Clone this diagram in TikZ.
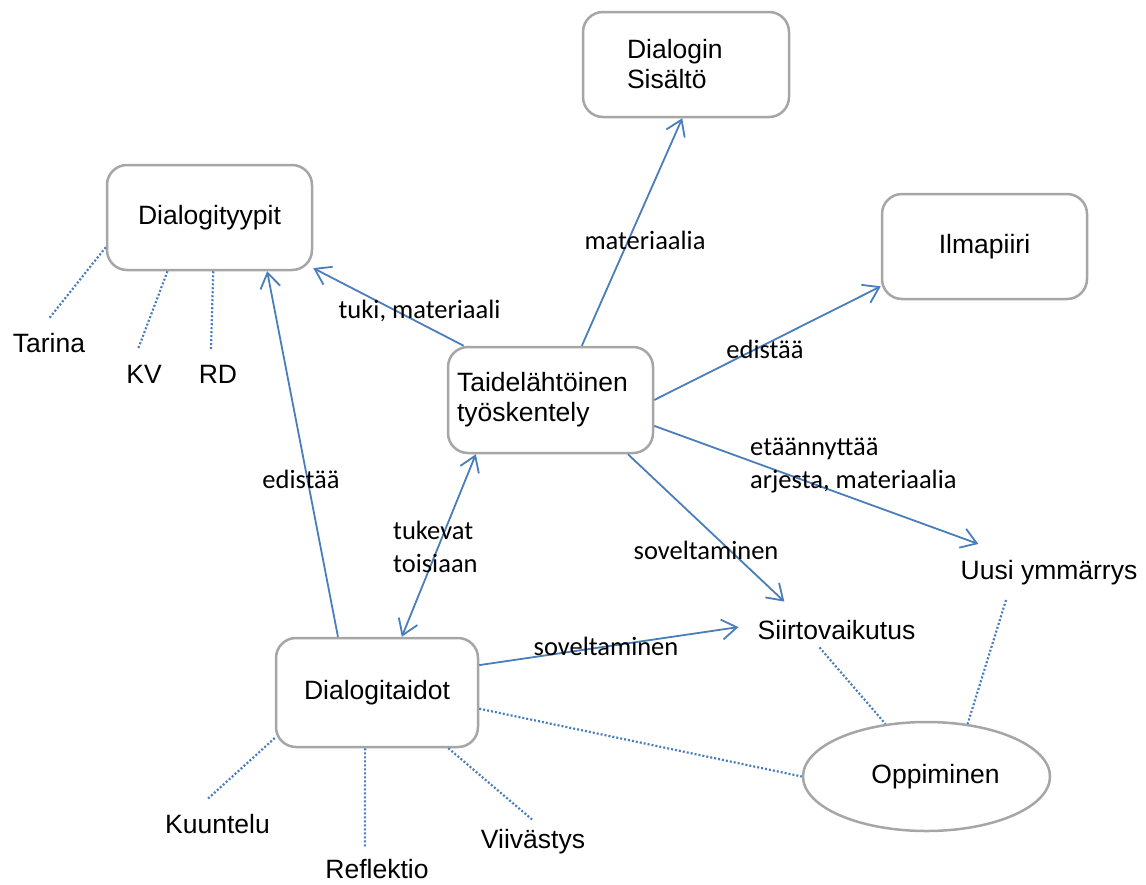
\documentclass[tikz,border=0pt]{standalone}
\usepackage{fontspec}
\setmainfont{Liberation Sans}
\newfontfamily\labelfont{Carlito}
\usetikzlibrary{arrows.meta,shapes.geometric}

\definecolor{linkblue}{HTML}{4A7EBB}
\definecolor{boxgray}{HTML}{A6A6A6}

\begin{document}
\begin{tikzpicture}[x=1pt,y=-1pt,
  box/.style={draw=boxgray, line width=2.5pt, rounded corners=20pt, fill=white,
    minimum width=205pt, minimum height=105pt, inner sep=0pt,
    font=\fontsize{26.5}{30}\selectfont},
  oval/.style={ellipse, draw=boxgray, line width=2.5pt, fill=white,
    minimum width=247pt, minimum height=109pt, inner sep=0pt,
    font=\fontsize{26.5}{30}\selectfont},
  term/.style={inner sep=16pt, font=\fontsize{26.5}{30}\selectfont},
  lbl/.style={inner sep=0pt, font=\labelfont\fontsize{26.5}{33}\selectfont},
  link/.style={draw=linkblue, line width=1.8pt,
    -{Straight Barb[length=15pt,width=20pt,line width=1.8pt]}},
  twoway/.style={draw=linkblue, line width=1.8pt,
    {Straight Barb[length=15pt,width=20pt,line width=1.8pt]}-{Straight Barb[length=15pt,width=20pt,line width=1.8pt]}},
  dots/.style={draw=linkblue, line width=2.2pt, dash pattern=on 2pt off 2pt}
]
\useasboundingbox (0,0) rectangle (1146,884);

% main boxes
\node[box, minimum width=206pt, text width=118pt, align=left] (sisalto) at (686,64.5) {Dialogin\\Sisältö};
\node[box] (typit) at (209.5,217.5) {Dialogityypit};
\node[box] (ilma) at (984.5,246.5) {Ilmapiiri};
\node[box, minimum height=106pt, text width=187pt, align=left] (taide) at (550.5,400) {Taidelähtöinen\\työskentely};
\node[box, minimum width=202pt, minimum height=109pt] (taidot) at (377,692.5) {Dialogitaidot};
\node[oval, text width=150pt, align=center] (oppi) at (926.5,776.5) {\hspace*{18pt}Oppiminen};

% free-standing terms
\node[term, inner sep=19pt] (siirto) at (836.5,630.5) {Siirtovaikutus};
\node[term, inner sep=16pt] (uusi) at (1049,572.5) {Uusi ymmärrys};
\node[term, inner sep=15pt] (tarina) at (49,343.5) {Tarina};
\node[term] (kv) at (144,374.5) {KV};
\node[term] (rd) at (218,374.5) {RD};
\node[term, inner sep=15pt] (kuuntelu) at (217.5,824) {Kuuntelu};
\node[term, inner sep=12pt] (reflektio) at (377,869) {Reflektio};
\node[term, inner sep=10pt] (viivastys) at (533,842) {Viivästys};

% arrows out of the art-based work
\draw[link] (taide.148.8) -- (typit.-26.7);
\draw[link] (taide.60.9) -- (sisalto.266.8);
\draw[link] (taide.0) -- (ilma.201.1);
\draw[link] (taide.-14.5) -- (uusi.158);
\draw[link] (taide.-35.1) -- (siirto.151.5);

% arrows out of the dialogue skills
\draw[link] (taidot.125.6) -- (typit.-43.4);
\draw[twoway] (taidot.66.1) -- (taide.-144.2);
\draw[link] (taidot.15.8) -- (siirto.178.8);

% edge labels
\node[lbl] (l1) at (419.5,311) {tuki, materiaali};
\node[lbl] (l2) at (645,240) {materiaalia};
\node[lbl] (l3) at (765,349) {edistää};
\node[lbl, align=left, anchor=north west] (l4) at (750,438) {etäännyttää\\arjesta, materiaalia};
\node[lbl] (l5) at (706,550) {soveltaminen};
\node[lbl] (l6) at (301,479) {edistää};
\node[lbl, align=left, anchor=north west] (l7) at (393,521) {tukevat\\toisiaan};
\node[lbl] (l8) at (606,646) {soveltaminen};

% dotted associations
\draw[dots] (typit.196.6) -- (tarina.north);
\draw[dots] (typit.232.6) -- ([xshift=-6pt]kv.north);
\draw[dots] (typit.-86.3) -- ([xshift=-7pt]rd.north);
\draw[dots] (taidot.204.9) -- ([xshift=-10pt]kuuntelu.north);
\draw[dots] (taidot.258.2) -- ([xshift=-12pt]reflektio.north);
\draw[dots] (taidot.-38.2) -- ([xshift=-1pt]viivastys.north);
\draw[dots] (taidot.-9.9) -- (oppi.west);
\draw[dots] ([xshift=-17pt,yshift=12pt]siirto.south) -- (oppi.128.6);
\draw[dots] ([xshift=-43pt,yshift=1pt]uusi.south) -- (oppi.52.7);
\end{tikzpicture}
\end{document}
